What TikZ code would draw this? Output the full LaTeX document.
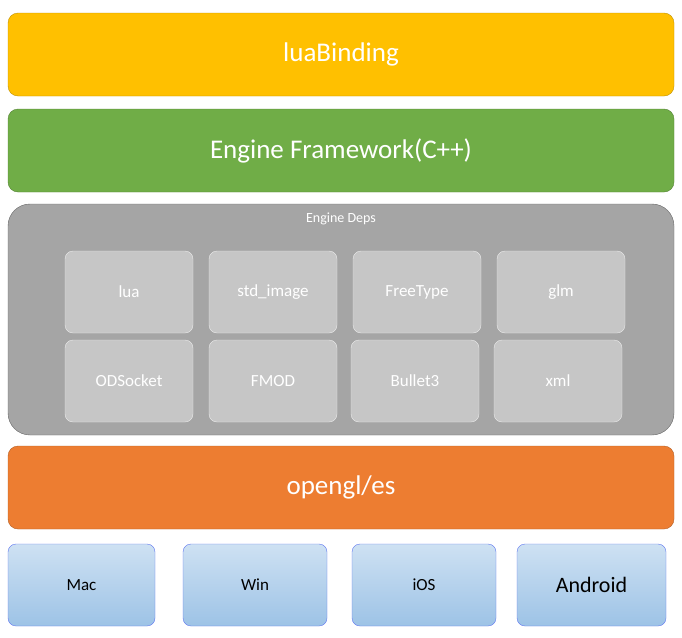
\documentclass[tikz,border=0pt]{standalone}
\usepackage{fontspec}
\setmainfont{Carlito}
\definecolor{cvang}{HTML}{FFC000}
\definecolor{cxanh}{HTML}{70AD47}
\definecolor{cxam}{HTML}{A5A5A5}
\definecolor{ccam}{HTML}{ED7D31}
\definecolor{cduong}{HTML}{9DC3E6}
\begin{document}
\begin{tikzpicture}[x=1pt,y=-1pt,
	lop/.style={draw=#1!75!black,fill=#1,rounded corners=10pt,text=white,font=\fontsize{27}{32}\selectfont},
	hop/.style={draw=white!85!gray,fill=white!55!gray,rounded corners=8pt,text=white,font=\fontsize{17}{20}\selectfont},
	nen/.style={draw=cduong!60!blue,top color=cduong!50!white,bottom color=cduong,rounded corners=8pt,text=black,font=\fontsize{#1}{22}\selectfont}]
	\useasboundingbox (0,0) rectangle (682,637);
	%%Các lớp chính
	\draw[lop=cvang] (8,13) rectangle (674,96) node[midway] (lua-binding) {luaBinding};
	\draw[lop=cxanh] (8,109) rectangle (674,192) node[midway] (framework) {Engine Framework(C++)};
	\draw[draw=gray!80!black,fill=cxam,rounded corners=22pt] (8,204) rectangle (674,435);
	\node[text=white,font=\fontsize{14}{16}\selectfont] (deps) at (341,219) {Engine Deps};
	\draw[lop=ccam] (8,446) rectangle (674,529) node[midway] (opengl) {opengl/es};
	%%Các thư viện
	\foreach [count=\i] \x/\y/\n in {%
		65/251/lua, 209/251/std\_image, 353/251/FreeType, 497/251/glm,
		65/340/ODSocket, 209/340/FMOD, 351/340/Bullet3, 494/340/xml}{%
		\draw[hop] (\x,\y) rectangle ++(128,82) node[midway] (lib-\i) {\n};
	}
	%%Các nền tảng
	\foreach [count=\i] \x/\w/\n/\s in {8/147/Mac/17, 183/144/Win/17, 352/144/iOS/17, 517/149/Android/22}{%
		\draw[nen=\s] (\x,544) rectangle ++(\w,82) node[midway] (os-\i) {\n};
	}
\end{tikzpicture}
\end{document}
